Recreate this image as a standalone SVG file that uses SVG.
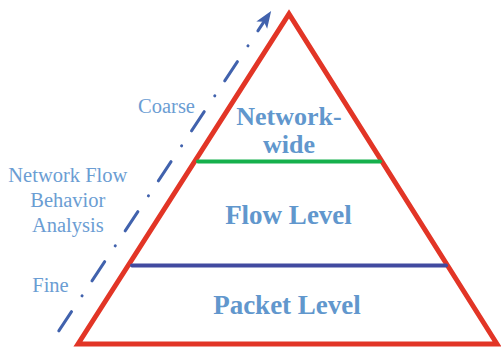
<svg xmlns="http://www.w3.org/2000/svg" width="501" height="349" viewBox="0 0 501 349">
  <style>
    .level { font-family: "Liberation Serif", "Times New Roman", serif; font-weight: bold; fill: #6197cd; text-anchor: middle; }
    .side { font-family: "Liberation Serif", "Times New Roman", serif; font-size: 20.5px; fill: #6b9dd3; text-anchor: middle; }
    .divider { stroke-width: 4; stroke-linecap: round; }
  </style>
  <defs>
    <marker id="arrowhead" markerUnits="userSpaceOnUse" orient="auto" markerWidth="30" markerHeight="30" refX="0" refY="0" viewBox="-10 -10 30 20" overflow="visible">
      <path d="M-5,-6.5 L12,0 L-5,6.5 L-1,0 z" fill="#4162ad"/>
    </marker>
  </defs>
  <rect width="501" height="349" fill="#ffffff"/>

  <!-- granularity axis: fine to coarse -->
  <g id="connectors">
    <path d="M58.8,330.8 L264.5,20.9" fill="none" stroke="#4162ad" stroke-width="3" stroke-linecap="round" stroke-dasharray="23 19 0.1 17.9" marker-end="url(#arrowhead)"/>
  </g>

  <!-- pyramid outline -->
  <g id="pyramid">
    <polygon points="78,344 289,14 497,344" fill="none" stroke="#e23526" stroke-width="5" stroke-linejoin="miter"/>
  </g>

  <!-- tier boundaries -->
  <g id="tier-boundaries">
    <line class="divider" x1="198" y1="161.5" x2="380" y2="161.5" stroke="#15b04c"/>
    <line class="divider" x1="132" y1="265.5" x2="446" y2="265.5" stroke="#414aa0"/>
  </g>

  <g id="network-wide">
    <text class="level" x="289" y="125" font-size="26">Network-</text>
    <text class="level" x="289" y="152.5" font-size="26">wide</text>
  </g>
  <g id="flow-level">
    <text class="level" x="288.5" y="224" font-size="27">Flow Level</text>
  </g>
  <g id="packet-level">
    <text class="level" x="287" y="314" font-size="27">Packet Level</text>
  </g>

  <g id="axis-labels">
    <text class="side" x="166.5" y="112.7">Coarse</text>
    <text class="side" x="67.8" y="181.7">Network Flow</text>
    <text class="side" x="67.8" y="206.7">Behavior</text>
    <text class="side" x="67.8" y="231.7">Analysis</text>
    <text class="side" x="50.5" y="291.7">Fine</text>
  </g>
</svg>
